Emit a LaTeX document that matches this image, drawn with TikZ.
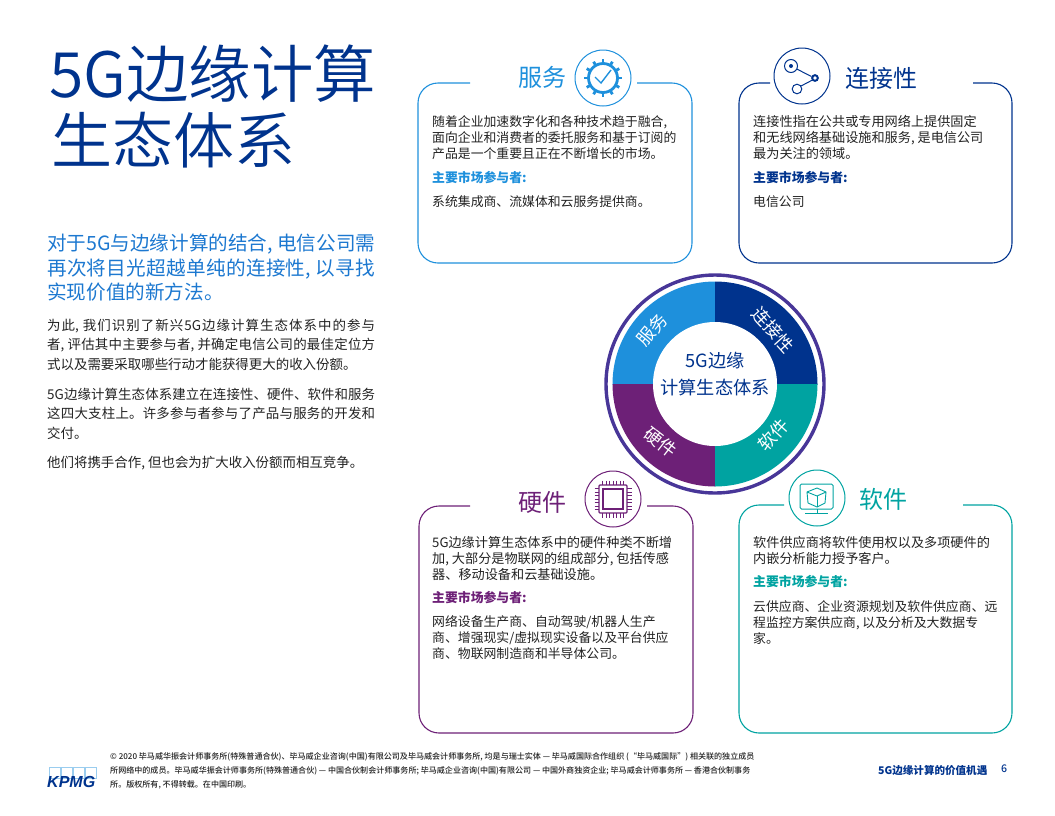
\documentclass[tikz,border=0pt]{standalone}
\usepackage{fontspec}
\setmainfont{Noto Sans CJK SC}
\newfontfamily\lightcjk{Noto Sans CJK SC DemiLight}
\newfontfamily\medcjk{Noto Sans CJK SC Medium}
\newfontfamily\logofont{Liberation Sans}
\XeTeXlinebreaklocale "zh"
\XeTeXlinebreakskip=0pt plus 2pt minus .2pt
\definecolor{cserv}{HTML}{1E90DC}
\definecolor{cconn}{HTML}{00338D}
\definecolor{chard}{HTML}{6D2077}
\definecolor{csoft}{HTML}{00A3A1}
\definecolor{cring}{HTML}{483698}
\definecolor{ctext}{HTML}{222222}
\definecolor{clead}{HTML}{1C78D0}
\tikzset{
 x=1pt,y=-1pt,
 panel/.style={line width=1.1pt,rounded corners=20pt},
 body/.style={anchor=north west,inner sep=0pt,align=left,text=ctext,font=\fontsize{12.85}{16}\selectfont},
 bodywide/.style={body,font=\fontsize{13.15}{16}\selectfont},
 keyhead/.style={anchor=west,inner sep=0pt,font=\fontsize{12.85}{16}\selectfont\bfseries},
 para/.style={anchor=north west,inner sep=0pt,text width=328pt,align=justify,text=ctext,font=\fontsize{13.45}{19.6}\selectfont},
 panelhead/.style={inner sep=0pt,font=\fontsize{24}{28}\selectfont},
 seglabel/.style={inner sep=0pt,text=white,font=\fontsize{17.8}{20}\selectfont},
 iconring/.style={line width=1pt},
 foot/.style={anchor=west,inner sep=0pt,text=ctext,font=\fontsize{8.05}{9}\selectfont\medcjk},
}
\begin{document}
\begin{tikzpicture}
\useasboundingbox (0,0) rectangle (1055,815);
% title
\node[anchor=west,inner sep=0pt,text=cconn,font=\fontsize{62.5}{70}\selectfont\lightcjk] (t1) at (49,74) {5G边缘计算};
\node[anchor=west,inner sep=0pt,text=cconn,font=\fontsize{61}{70}\selectfont\lightcjk] (t2) at (51,140) {生态体系};
% lead
\node[anchor=north west,inner sep=0pt,text width=328pt,align=justify,text=clead,font=\fontsize{19.6}{24.5}\selectfont] (lead) at (47,234) {对于5G与边缘计算的结合, 电信公司需\linebreak 再次将目光超越单纯的连接性, 以寻找\linebreak 实现价值的新方法。};
\node[para] (p1) at (47,318.5) {为此, 我们识别了新兴5G边缘计算生态体系中的参与\linebreak 者, 评估其中主要参与者, 并确定电信公司的最佳定位方\linebreak 式以及需要采取哪些行动才能获得更大的收入份额。};
\node[para] (p2) at (47,387.5) {5G边缘计算生态体系建立在连接性、硬件、软件和服务\linebreak 这四大支柱上。许多参与者参与了产品与服务的开发和\linebreak 交付。};
\node[para] (p3) at (47,456) {他们将携手合作, 但也会为扩大收入份额而相互竞争。};
% panels
\draw[panel,cserv] (470,83) -- (418,83) -- (418,263) -- (692,263) -- (692,83) -- (637,83);
\draw[panel,cconn] (770,83) -- (739,83) -- (739,263) -- (1012,263) -- (1012,83) -- (973,83);
\draw[panel,chard] (470,506) -- (419,506) -- (419,733) -- (693,733) -- (693,506) -- (647,506);
\draw[panel,csoft] (784,505) -- (739,505) -- (739,733) -- (1012,733) -- (1012,505) -- (963,505);
% panel heads
\node[panelhead,text=cserv] (hs) at (542,77) {服务};
\node[panelhead,text=cconn] (hc) at (881,78) {连接性};
\node[panelhead,text=chard] (hh) at (542,502) {硬件};
\node[panelhead,text=csoft] (hw) at (883,499) {软件};
% service text
\node[body] (s1) at (432,115) {随着企业加速数字化和各种技术趋于融合,\\面向企业和消费者的委托服务和基于订阅的\\产品是一个重要且正在不断增长的市场。};
\node[keyhead,text=cserv] (s2) at (432,178) {主要市场参与者:};
\node[body] (s3) at (432,195) {系统集成商、流媒体和云服务提供商。};
% connectivity text
\node[bodywide] (c1) at (753,115) {连接性指在公共或专用网络上提供固定\\和无线网络基础设施和服务, 是电信公司\\最为关注的领域。};
\node[keyhead,text=cconn] (c2) at (753,178) {主要市场参与者:};
\node[body] (c3) at (753,195) {电信公司};
% hardware text
\node[bodywide] (h1) at (432,536) {5G边缘计算生态体系中的硬件种类不断增\\加, 大部分是物联网的组成部分, 包括传感\\器、移动设备和云基础设施。};
\node[keyhead,text=chard] (h2) at (432,598) {主要市场参与者:};
\node[body] (h3) at (432,615) {网络设备生产商、自动驾驶/机器人生产\\商、增强现实/虚拟现实设备以及平台供应\\商、物联网制造商和半导体公司。};
% software text
\node[bodywide] (w1) at (753,536) {软件供应商将软件使用权以及多项硬件的\\内嵌分析能力授予客户。};
\node[keyhead,text=csoft] (w2) at (753,582) {主要市场参与者:};
\node[body] (w3) at (753,600) {云供应商、企业资源规划及软件供应商、远\\程监控方案供应商, 以及分析及大数据专\\家。};
% donut
\begin{scope}\clip (715,384) rectangle (600,270); \fill[cserv] (715,384) circle[radius=102.5pt]; \end{scope}
\begin{scope}\clip (715,384) rectangle (830,270); \fill[cconn] (715,384) circle[radius=102.5pt]; \end{scope}
\begin{scope}\clip (715,384) rectangle (600,500); \fill[chard] (715,384) circle[radius=102.5pt]; \end{scope}
\begin{scope}\clip (715,384) rectangle (830,500); \fill[csoft] (715,384) circle[radius=102.5pt]; \end{scope}
\fill[white] (715,384) circle[radius=62pt];
\draw[cring,line width=3.4pt] (715,384) circle[radius=109pt];
\node[seglabel,rotate=50] (ls) at (652,330) {服务};
\node[seglabel,rotate=-48] (lc) at (773,330) {连接性};
\node[seglabel,rotate=-38] (lh) at (661,442) {硬件};
\node[seglabel,rotate=48] (lw) at (773,435) {软件};
\node[inner sep=0pt,text=cconn,align=center,font=\fontsize{18.2}{27}\selectfont] (centre) at (715,374) {5G边缘\\计算生态体系};
% icon: service
\draw[iconring,cserv] (603,78) circle[radius=28pt];
\draw[cserv,line width=2.8pt] (603,78) circle[radius=14.5pt];
\foreach \a in {0,30,...,330} \draw[cserv,line width=2.8pt,shift={(603,78)}] (\a:14.5pt) -- (\a:18.8pt);
\draw[cserv,line width=1.4pt] (595,77) -- (601,83) -- (611,70);
% icon: connectivity
\draw[iconring,cconn] (802,76) circle[radius=28pt];
\draw[cconn,line width=1pt] (791,66) circle[radius=6.5pt];
\fill[cconn] (791,66) circle[radius=2pt];
\draw[cconn,line width=2pt] (815,78) circle[radius=2.8pt];
\draw[cconn,line width=1pt] (797,89) circle[radius=4.8pt];
\draw[cconn,line width=1pt] (796.7,69) -- (811.5,76.5);
\draw[cconn,line width=1pt] (801,86) -- (812.5,80);
% icon: hardware
\draw[iconring,chard] (613,499) circle[radius=28pt];
\draw[chard,line width=1.1pt,rounded corners=1pt] (599,485) rectangle (627,513);
\draw[chard,line width=1.1pt] (603,489) rectangle (623,509);
\foreach \d in {-10.5,-7,...,10.5} {
 \draw[chard,line width=.7pt] (613+\d,480.5) -- (613+\d,485);
 \draw[chard,line width=.7pt] (613+\d,513) -- (613+\d,517.5);
 \draw[chard,line width=.7pt] (594.5,499+\d) -- (599,499+\d);
 \draw[chard,line width=.7pt] (627,499+\d) -- (631.5,499+\d);
}
% icon: software
\draw[iconring,csoft] (817,498) circle[radius=28pt];
\draw[csoft,line width=1pt,rounded corners=1.5pt] (800,484) rectangle (833,509);
\draw[csoft,line width=1pt] (817,509) -- (817,513);
\draw[csoft,line width=1pt] (805,513) -- (828,513);
\draw[csoft,line width=.9pt] (817,488) -- (826,492) -- (825,503) -- (817,507) -- (808,503) -- (807,492) -- cycle;
\draw[csoft,line width=.9pt] (807,492) -- (817,496) -- (826,492);
\draw[csoft,line width=.9pt] (817,496) -- (817,507);
% footer
\node[foot] (f1) at (110,757) {© 2020 毕马威华振会计师事务所(特殊普通合伙)、毕马威企业咨询(中国)有限公司及毕马威会计师事务所, 均是与瑞士实体 — 毕马威国际合作组织 (“毕马威国际”) 相关联的独立成员};
\node[foot] (f2) at (110,771) {所网络中的成员。毕马威华振会计师事务所(特殊普通合伙) — 中国合伙制会计师事务所; 毕马威企业咨询(中国)有限公司 — 中国外商独资企业; 毕马威会计师事务所 — 香港合伙制事务};
\node[foot] (f3) at (110,785) {所。版权所有, 不得转载。在中国印刷。};
\node[anchor=west,inner sep=0pt,text=cconn,font=\fontsize{10.55}{12}\selectfont\bfseries] (pg) at (878,770) {5G边缘计算的价值机遇};
\node[anchor=west,inner sep=0pt,text=cconn,font=\fontsize{10.55}{12}\selectfont\medcjk] (pn) at (1001,769) {6};
% logo
\foreach \i in {0,1,2,3} \draw[cserv!45,line width=.6pt] (49+12*\i,767) rectangle (60+12*\i,778);
\node[anchor=west,inner sep=0pt,text=cconn,font=\fontsize{16}{16}\selectfont\logofont\bfseries\itshape] (logo) at (47,782) {KPMG};
\end{tikzpicture}
\end{document}
